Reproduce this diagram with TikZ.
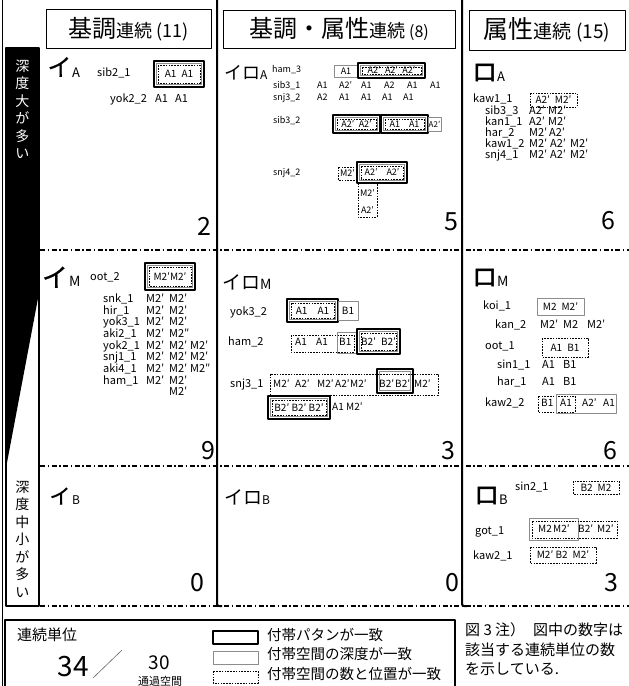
\documentclass[tikz,border=0pt]{standalone}
\usepackage{fontspec}
\setmainfont{Noto Sans CJK JP}
\newfontfamily\heavykana[FakeBold=2]{Noto Sans CJK JP}
\newfontfamily\midkana[FakeBold=0.6]{Noto Sans CJK JP}
\usetikzlibrary{positioning}
\newcommand\fs[1]{\fontsize{#1}{#1}\selectfont}
\tikzset{
  tag/.style={anchor=mid west,inner sep=0pt,font=\fs{11}},
  val/.style={anchor=mid west,inner sep=0pt,font=\fs{11}},
  tiny/.style={anchor=mid west,inner sep=0pt,font=\fs{9}},
  boxtxt/.style={inner sep=0pt,font=\fs{10}},
  count/.style={inner sep=0pt,font=\fs{25}},
  kana/.style={anchor=base west,inner sep=0pt},
  bigkana/.style={anchor=base,inner sep=0pt},
  patbox/.style={draw=black,line width=1.3pt},
  depbox/.style={draw=black!45,line width=0.9pt},
  posbox/.style={draw=black,line width=0.5pt,dash pattern=on 1.6pt off 1.2pt},
  rowsep/.style={line width=1.8pt,dash pattern=on 5pt off 2.5pt on 1.5pt off 2.5pt},
  colsep/.style={line width=2pt},
  vtext/.style={align=center,inner sep=0pt,font=\fontsize{14}{17.5}\selectfont},
}

\begin{document}
\begin{tikzpicture}[x=1pt,y=-1pt,line join=round]
  \useasboundingbox (0,0) rectangle (629,686);
  % nested frames: pattern / depth / position
  \def\tribox(#1,#2)(#3,#4){%
    \draw[patbox] (#1,#2) rectangle (#3,#4);
    \draw[depbox] (#1+2.2,#2+2.2) rectangle (#3-2.2,#4-2.2);
    \draw[posbox] (#1+4.2,#2+4.2) rectangle (#3-4.2,#4-4.2);}

  % ---------- frame ----------
  \draw[line width=1pt] (2,0) -- (2,686);
  \fill (6,48) -- (39,48) -- (39,293) -- (6,468) -- cycle;
  \draw[line width=1.4pt] (6,48) rectangle (39,606);
  \node[vtext,text=white] (deep) at (22.5,109.5) {深\\度\\大\\が\\多\\い};
  \node[vtext] (shallow) at (22.5,539) {深\\度\\中\\小\\が\\多\\い};
  \draw[colsep,rounded corners=2pt] (217,0) -- (217,606) -- (222,606);
  \draw[colsep,rounded corners=2pt] (462,0) -- (462,606) -- (467,606);
  \draw[rowsep] (40,250) -- (629,250);
  \draw[rowsep] (40,466) -- (629,466);
  \draw[rowsep] (40,606) -- (629,606);

  % ---------- headers ----------
  \draw[line width=0.8pt] (46,9) rectangle (211,48);
  \node (hd1) at (128.5,29) {\fs{24}基調\fs{18}連続 (11)};
  \draw[line width=0.8pt] (223,10) rectangle (455,48);
  \node (hd2) at (339,29) {\fs{24}基調・属性\fs{18}連続 \fs{16}(8)};
  \draw[line width=0.8pt] (469,10) rectangle (625,50);
  \node (hd3) at (547,30) {\fs{25}属性\fs{19}連続 (15)};

  % ---------- column 1 ----------
  \node[bigkana] (kA) at (59.5,76) {\midkana\fs{24}イ};
  \node[kana,font=\fs{13}] (kAs) at (72,77) {A};
  \node[tag] (sib21) at (97,74) {sib2\_1};
  \tribox(154,61)(204,87)
  \node[boxtxt] (sib21v) at (179,74) {A1\enspace A1};
  \node[tag] (yok22) at (110,100) {yok2\_2};
  \path (155,100) node[val] (yok22a) {A1} (175,100) node[val] (yok22b) {A1};
  \node[count] (n1A) at (204,226) {2};

  \node[bigkana] (kM) at (55,287) {\midkana\fs{26}イ};
  \node[kana,font=\fs{14}] (kMs) at (69,286) {M};
  \node[tag] (oot2) at (90,278) {oot\_2};
  \tribox(145,263)(195,290)
  \node[boxtxt] (oot2v) at (170,276.5) {M2′M2′};
  \node[tag] (snk1) at (103,300) {snk\_1};
  \path (146,300) node[val] (snk1a) {M2′} (169,300) node[val] (snk1b) {M2′};
  \node[tag] (hir1) at (103,312) {hir\_1};
  \path (146,312) node[val] (hir1a) {M2′} (169,312) node[val] (hir1b) {M2′};
  \node[tag] (yok31) at (103,323) {yok3\_1};
  \path (146,323) node[val] (yok31a) {M2′} (169,323) node[val] (yok31b) {M2′};
  \node[tag] (aki21) at (103,335) {aki2\_1};
  \path (146,335) node[val] (aki21a) {M2′} (169,335) node[val] (aki21b) {M2″};
  \node[tag] (yok21) at (103,347) {yok2\_1};
  \path (146,347) node[val] (yok21a) {M2′} (169,347) node[val] (yok21b) {M2′}
        (190,347) node[val] (yok21c) {M2′};
  \node[tag] (snj11) at (103,358) {snj1\_1};
  \path (146,358) node[val] (snj11a) {M2′} (169,358) node[val] (snj11b) {M2′}
        (190,358) node[val] (snj11c) {M2′};
  \node[tag] (aki41) at (103,370) {aki4\_1};
  \path (146,370) node[val] (aki41a) {M2′} (169,370) node[val] (aki41b) {M2′}
        (190,370) node[val] (aki41c) {M2″};
  \node[tag] (ham1) at (103,382) {ham\_1};
  \path (146,382) node[val] (ham1a) {M2′} (169,382) node[val] (ham1b) {M2′};
  \node[val] (ham1c) at (169,393) {M2′};
  \node[count] (n1M) at (208,451) {9};

  \node[bigkana] (kB) at (60,504) {\midkana\fs{21}イ};
  \node[kana,font=\fs{12}] (kBs) at (72,504) {B};
  \node[count] (n1B) at (197,583) {0};

  % ---------- column 2 ----------
  \node[kana] (kkA) at (224,79) {\fs{18}イロ\fs{12}A};
  \node[tiny] (ham3) at (272,70) {ham\_3};
  \draw[depbox] (334,65) rectangle (358,77);
  \node[boxtxt,font=\fs{9}] (ham3a) at (346,71) {A1};
  \tribox(358,63)(425,78)
  \node[boxtxt,font=\fs{9}] (ham3b) at (391.5,70.5) {A2′\enspace A2′\enspace A2′};
  \node[tiny] (sib31) at (273,86) {sib3\_1};
  \path (317,86) node[tiny] (sib31a) {A1} (339,86) node[tiny] (sib31b) {A2′}
        (361,86) node[tiny] (sib31c) {A1} (384,86) node[tiny] (sib31d) {A2}
        (407,86) node[tiny] (sib31e) {A1} (430,86) node[tiny] (sib31f) {A1};
  \node[tiny] (snj32) at (273,98) {snj3\_2};
  \path (317,98) node[tiny] (snj32a) {A2} (339,98) node[tiny] (snj32b) {A1}
        (361,98) node[tiny] (snj32c) {A1} (382,98) node[tiny] (snj32d) {A1}
        (403,98) node[tiny] (snj32e) {A1};
  \node[tiny] (sib32) at (273,121) {sib3\_2};
  \tribox(333,115)(380,133)
  \node[boxtxt,font=\fs{9}] (sib32a) at (356.5,124) {A2′\enspace A2′};
  \tribox(381,115)(428,133)
  \node[boxtxt,font=\fs{9}] (sib32b) at (404.5,124) {A1\quad A1};
  \draw[depbox] (428,117) rectangle (441,131);
  \node[boxtxt,font=\fs{8}] (sib32c) at (434.5,124) {A2′};
  \node[tiny] (snj42) at (273,173) {snj4\_2};
  \draw[posbox] (338,167) rectangle (357,180);
  \node[boxtxt,font=\fs{9}] (snj42a) at (347.5,173.5) {M2′};
  \tribox(357,162)(407,183)
  \node[boxtxt,font=\fs{9}] (snj42b) at (382,172.5) {A2′\quad A2′};
  \draw[posbox] (358,183) rectangle (377,217);
  \node[boxtxt,font=\fs{9}] (snj42c) at (367.5,193) {M2′};
  \node[boxtxt,font=\fs{9}] (snj42d) at (367.5,210) {A2′};
  \node[count] (n2A) at (451,222) {5};

  \node[kana] (kkM) at (222,289) {\fs{19}イロ\fs{14}M};
  \node[tag] (yok32) at (230,313) {yok3\_2};
  \tribox(287,299)(338,322)
  \node[boxtxt] (yok32a) at (312.5,310.5) {A1\quad A1};
  \draw[depbox] (338,301) rectangle (358,320);
  \node[boxtxt] (yok32b) at (348,310.5) {B1};
  \node[tag] (ham2) at (228,343) {ham\_2};
  \draw[posbox] (291,335) rectangle (354,352);
  \draw[depbox] (337,332) rectangle (357,353);
  \path (295,343) node[boxtxt,anchor=mid west] (ham2a) {A1}
        (316,343) node[boxtxt,anchor=mid west] (ham2b) {A1}
        (339,343) node[boxtxt,anchor=mid west] (ham2c) {B1};
  \tribox(357,329)(400,354)
  \node[boxtxt] (ham2d) at (378.5,341.5) {B2′\enspace B2′};
  \node[tag] (snj31) at (230,385) {snj3\_1};
  \draw[posbox] (270,374) rectangle (438,395);
  \draw[patbox] (377,369) rectangle (413,393);
  \draw[depbox] (379.5,371.5) rectangle (410.5,390.5);
  \path (273,385) node[boxtxt,anchor=mid west] (snj31a) {M2′}
        (295,385) node[boxtxt,anchor=mid west] (snj31b) {A2′}
        (317,385) node[boxtxt,anchor=mid west] (snj31c) {M2′}
        (335,385) node[boxtxt,anchor=mid west] (snj31d) {A2′}
        (350,385) node[boxtxt,anchor=mid west] (snj31e) {M2′}
        (379,385) node[boxtxt,anchor=mid west] (snj31f) {B2′}
        (395,385) node[boxtxt,anchor=mid west] (snj31g) {B2′}
        (414,385) node[boxtxt,anchor=mid west] (snj31h) {M2′};
  \tribox(268,396)(330,419)
  \node[boxtxt] (snj31i) at (299,408) {B2′ B2′ B2′};
  \path (332,408) node[boxtxt,anchor=mid west] (snj31j) {A1}
        (346,408) node[boxtxt,anchor=mid west] (snj31k) {M2′};
  \node[count] (n2M) at (448,451) {3};

  \node[kana] (kkB) at (224,504) {\fs{19}イロ\fs{12}B};
  \node[count] (n2B) at (452,583) {0};

  % ---------- column 3 ----------
  \node[kana] (rA) at (472,81) {\heavykana\fs{25}ロ\normalfont\fs{13}A};
  \node[tag] (kaw11) at (473,100) {kaw1\_1};
  \draw[posbox] (530,93) rectangle (577,107);
  \node[boxtxt] (kaw11v) at (553.5,100) {A2′\enspace M2′};
  \node[tag] (sib33) at (485,112) {sib3\_3};
  \path (529,112) node[val] (sib33a) {A2′} (548,112) node[val] (sib33b) {M2′};
  \node[tag] (kan11) at (485,123) {kan1\_1};
  \path (529,123) node[val] (kan11a) {A2′} (548,123) node[val] (kan11b) {M2′};
  \node[tag] (har2) at (485,134) {har\_2};
  \path (529,134) node[val] (har2a) {M2′} (549,134) node[val] (har2b) {A2′};
  \node[tag] (kaw12) at (485,145) {kaw1\_2};
  \path (529,145) node[val] (kaw12a) {M2′} (550,145) node[val] (kaw12b) {A2′}
        (570,145) node[val] (kaw12c) {M2′};
  \node[tag] (snj41) at (485,156) {snj4\_1};
  \path (529,156) node[val] (snj41a) {M2′} (550,156) node[val] (snj41b) {A2′}
        (570,156) node[val] (snj41c) {M2′};
  \node[count] (n3A) at (608,221) {6};

  \node[kana] (rM) at (472,286) {\heavykana\fs{25}ロ\normalfont\fs{14}M};
  \node[tag] (koi1) at (483,307) {koi\_1};
  \draw[depbox] (537,298) rectangle (584,315);
  \node[boxtxt] (koi1v) at (560.5,306.5) {M2\enspace M2′};
  \node[tag] (kan2) at (495,326) {kan\_2};
  \path (540,326) node[val] (kan2a) {M2′} (563,326) node[val] (kan2b) {M2}
        (587,326) node[val] (kan2c) {M2′};
  \node[tag] (oot1) at (485,347) {oot\_1};
  \draw[posbox] (542,338) rectangle (588,357);
  \node[boxtxt] (oot1v) at (565,347.5) {A1\enspace B1};
  \node[tag] (sin11) at (497,366) {sin1\_1};
  \path (542,366) node[val] (sin11a) {A1} (563,366) node[val] (sin11b) {B1};
  \node[tag] (har1) at (497,383) {har\_1};
  \path (542,383) node[val] (har1a) {A1} (563,383) node[val] (har1b) {B1};
  \node[tag] (kaw22) at (485,404) {kaw2\_2};
  \draw[posbox] (538,396) rectangle (575,412);
  \draw[depbox] (556,394) rectangle (616,413);
  \path (541,404) node[boxtxt,anchor=mid west] (kaw22a) {B1}
        (560,404) node[boxtxt,anchor=mid west] (kaw22b) {A1}
        (582,404) node[boxtxt,anchor=mid west] (kaw22c) {A2′}
        (603,404) node[boxtxt,anchor=mid west] (kaw22d) {A1};
  \node[count] (n3M) at (610,451) {6};

  \node[kana] (rB) at (474,504) {\heavykana\fs{25}ロ\normalfont\fs{13}B};
  \node[tag] (sin21) at (515,488) {sin2\_1};
  \draw[posbox] (573,481) rectangle (619,494);
  \node[boxtxt] (sin21v) at (596,487.5) {B2\enspace M2};
  \node[tag] (got1) at (475,532) {got\_1};
  \draw[depbox] (529,518) rectangle (578,540);
  \draw[posbox] (532,521) rectangle (617,538);
  \path (538,530) node[boxtxt,anchor=mid west] (got1a) {M2}
        (553,530) node[boxtxt,anchor=mid west] (got1b) {M2′}
        (578,530) node[boxtxt,anchor=mid west] (got1c) {B2′}
        (597,530) node[boxtxt,anchor=mid west] (got1d) {M2′};
  \node[tag] (kaw21) at (473,557) {kaw2\_1};
  \draw[posbox] (530,547) rectangle (596,563);
  \node[boxtxt] (kaw21v) at (563,555) {M2′ B2\enspace M2′};
  \node[count] (n3B) at (611,583) {3};

  % ---------- legend ----------
  \draw[line width=1.5pt] (5,620) rectangle (455,690);
  \node[anchor=mid west,inner sep=0pt,font=\fs{15}] (unit) at (17,638) {連続単位};
  \node[inner sep=0pt,font=\fs{28}] (total) at (73,667) {34};
  \coordinate (sl1) at (93,678);
  \coordinate (sl2) at (122,650);
  \draw[black!60,line width=0.6pt] (sl1) -- (sl2);
  \node[inner sep=0pt,font=\fs{19}] (pass) at (159,663) {30};
  \node[inner sep=0pt,font=\fs{11}] (passlbl) at (160,681) {通過空間};
  \draw[patbox] (213,631) rectangle (258,644);
  \draw[depbox] (213,651) rectangle (258,664);
  \draw[posbox] (213,671) rectangle (258,683);
  \node[anchor=mid west,inner sep=0pt,font=\fs{14.5}] (lg1) at (267,638) {付帯パタンが一致};
  \node[anchor=mid west,inner sep=0pt,font=\fs{14.5}] (lg2) at (267,657) {付帯空間の深度が一致};
  \node[anchor=mid west,inner sep=0pt,font=\fs{14.5}] (lg3) at (267,677) {付帯空間の数と位置が一致};
  \node[anchor=mid west,inner sep=0pt,font=\fs{15}] (note1) at (465,633) {図 3 注）\hspace{8pt}図中の数字は};
  \node[anchor=mid west,inner sep=0pt,font=\fs{15}] (note2) at (465,653) {該当する連続単位の数};
  \node[anchor=mid west,inner sep=0pt,font=\fs{15}] (note3) at (465,672) {を示している.};
\end{tikzpicture}
\end{document}
